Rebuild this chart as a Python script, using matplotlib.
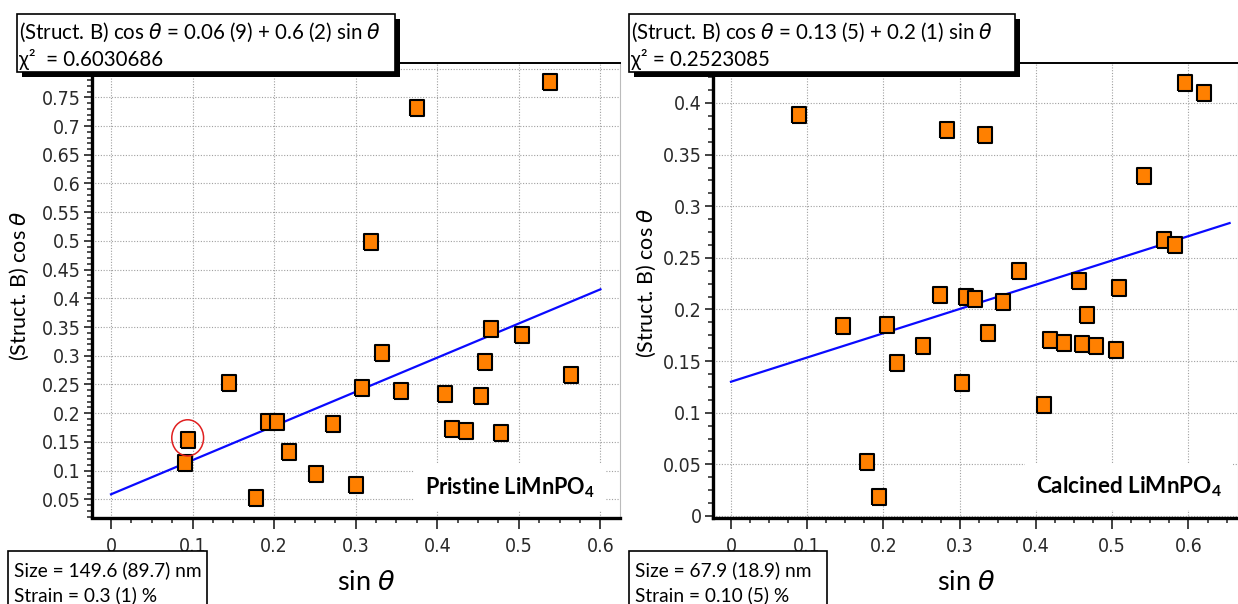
import matplotlib
matplotlib.use("Agg")
import matplotlib.pyplot as plt
from matplotlib import font_manager
from matplotlib.patches import Rectangle, Ellipse
from matplotlib.ticker import MultipleLocator


# -----------------------------
# Data
# -----------------------------
pristine_sin = [0.538, 0.375, 0.319, 0.0945, 0.0907, 0.1445, 0.193, 0.2037,
                0.1775, 0.218, 0.251, 0.2725, 0.3006, 0.308, 0.332, 0.355,
                0.409, 0.418, 0.4355, 0.4655, 0.458, 0.454, 0.4777, 0.5034,
                0.5645]
pristine_cos = [0.777, 0.731, 0.498, 0.153, 0.114, 0.252, 0.185, 0.185,
                0.052, 0.133, 0.094, 0.181, 0.075, 0.243, 0.304, 0.239,
                0.233, 0.172, 0.169, 0.346, 0.289, 0.230, 0.165, 0.337,
                0.266]

calcined_sin = [0.089, 0.283, 0.3326, 0.5958, 0.6207, 0.542, 0.5678, 0.5823,
                0.3777, 0.456, 0.5088, 0.2746, 0.3077, 0.3197, 0.357, 0.147,
                0.204, 0.2176, 0.2518, 0.3026, 0.3368, 0.4186, 0.4372, 0.46,
                0.4788, 0.5046, 0.4674, 0.41, 0.178, 0.1938]
calcined_cos = [0.388, 0.374, 0.369, 0.419, 0.410, 0.3295, 0.267, 0.262,
                0.237, 0.228, 0.221, 0.214, 0.212, 0.210, 0.207, 0.184,
                0.185, 0.148, 0.165, 0.129, 0.177, 0.1705, 0.168, 0.167,
                0.165, 0.161, 0.195, 0.107, 0.052, 0.018]

# linear fits: intercept, slope, x range
pristine_fit = (0.0587, 0.595, 0.0, 0.6)
calcined_fit = (0.130, 0.235, 0.0, 0.654)

TH = "$\\theta$"
pristine_eq = ["(Struct. B) cos " + TH + " = 0.06 (9) + 0.6 (2) sin " + TH,
               "\u03c7\u00b2  = 0.6030686"]
calcined_eq = ["(Struct. B) cos " + TH + " = 0.13 (5) + 0.2 (1) sin " + TH,
               "\u03c7\u00b2 = 0.2523085"]
pristine_size = ["Size = 149.6 (89.7) nm", "Strain = 0.3 (1) %"]
calcined_size = ["Size = 67.9 (18.9) nm", "Strain = 0.10 (5) %"]


# -----------------------------
# Fonts
# -----------------------------
fonts = font_manager.fontManager.ttflist
names = {f.name for f in fonts}
tick_stretch = "normal"
if "Liberation Sans Narrow" in names:
    tick_font, tick_size = "Liberation Sans Narrow", 15
elif any(f.name == "DejaVu Sans" and f.stretch == "condensed" for f in fonts):
    tick_font, tick_size, tick_stretch = "DejaVu Sans", 14, "condensed"
else:
    tick_font, tick_size = "Liberation Sans", 14
text_font = "Lato"

plt.rcParams["font.family"] = [text_font, "DejaVu Sans"]
plt.rcParams["mathtext.fontset"] = "custom"
plt.rcParams["mathtext.rm"] = text_font
plt.rcParams["mathtext.it"] = "DejaVu Sans:italic"
plt.rcParams["mathtext.bf"] = text_font + ":bold"

W, H = 1238, 604
fig = plt.figure(figsize=(W / 100, H / 100), dpi=100)


def px_rect(x0, y0, x1, y1):
    # pixel box (top-left origin) -> figure fraction rect
    return x0 / W, 1 - y1 / H, (x1 - x0) / W, (y1 - y0) / H


def fmt(v, pos):
    s = ("%.2f" % v).rstrip("0").rstrip(".")
    return "0" if s in ("-0", "") else s


def setup_axes(ax, xlim, ylim, ymajor, yminor):
    ax.set_xlim(*xlim)
    ax.set_ylim(*ylim)
    ax.xaxis.set_major_locator(MultipleLocator(0.1))
    ax.xaxis.set_minor_locator(MultipleLocator(0.025))
    ax.yaxis.set_major_locator(MultipleLocator(ymajor))
    ax.yaxis.set_minor_locator(MultipleLocator(yminor))
    ax.xaxis.set_major_formatter(fmt)
    ax.yaxis.set_major_formatter(fmt)
    ax.grid(True, which="major", color="#a0a0a0", linestyle=(0, (1, 1.5)),
            linewidth=0.8)
    ax.set_axisbelow(True)
    ax.spines["left"].set_linewidth(2.4)
    ax.spines["bottom"].set_linewidth(2.4)
    ax.spines["top"].set_linewidth(1.4)
    ax.spines["right"].set_linewidth(0.8)
    ax.spines["right"].set_color("#bbbbbb")
    ax.tick_params(which="major", direction="out", length=6, width=1.3,
                   color="#333333", labelsize=tick_size, labelcolor="#2a2a2a",
                   labelfontfamily=tick_font, pad=2)
    ax.tick_params(which="minor", direction="out", length=3.5, width=1.2,
                   color="#333333")
    ax.tick_params(axis="x", which="major", length=8, pad=6)


ax1 = fig.add_axes(px_rect(92, 62.5, 620, 517.5))
ax2 = fig.add_axes(px_rect(713, 62.5, 1238, 517.5))

setup_axes(ax1, (-0.0233, 0.624), (0.0183, 0.8107), 0.05, 0.01)
setup_axes(ax2, (-0.0236, 0.665), (-0.0015, 0.4392), 0.05, 0.0125)

square = [(-0.42, -0.5), (0.42, -0.5), (0.42, 0.5), (-0.42, 0.5), (-0.42, -0.5)]

for ax, xs, ys, fit in [(ax1, pristine_sin, pristine_cos, pristine_fit),
                        (ax2, calcined_sin, calcined_cos, calcined_fit)]:
    b, m, x0, x1 = fit
    ax.plot([x0, x1], [b + m * x0, b + m * x1], color="#0a0aff", lw=1.6,
            zorder=2)
    ax.plot(xs, ys, linestyle="none", marker=square, markersize=12,
            markerfacecolor="#ff8000", markeredgecolor="black",
            markeredgewidth=1.5, zorder=3)

# red circle on the pristine outlier
ax1.add_patch(Ellipse((0.094, 0.157), 0.039, 0.063, fill=False,
                      edgecolor="#e02020", lw=1.1, zorder=4))

# axis labels
ylab = "(Struct. B) cos " + TH
ax1.set_ylabel(ylab, fontsize=15.5)
ax2.set_ylabel(ylab, fontsize=15.5)
ax1.yaxis.set_label_coords(-0.1155, 0.51)
ax2.yaxis.set_label_coords(-0.105, 0.515)
ax1.set_xlabel("sin " + TH, fontsize=19.5)
ax2.set_xlabel("sin " + TH, fontsize=19.5)
ax1.xaxis.set_label_coords(0.519, -0.115)
ax2.xaxis.set_label_coords(0.482, -0.115)

# sample names
ax1.text(0.953, 0.066, "Pristine LiMnPO$_\\mathbf{4}$", transform=ax1.transAxes,
         ha="right", va="center", fontsize=15.6, fontweight="bold",
         bbox=dict(facecolor="white", edgecolor="none", pad=8), zorder=5)
ax2.text(0.97, 0.068, "Calcined LiMnPO$_\\mathbf{4}$", transform=ax2.transAxes,
         ha="right", va="center", fontsize=16.2, fontweight="bold",
         bbox=dict(facecolor="white", edgecolor="none", pad=8), zorder=5)


# -----------------------------
# Boxes with fit results
# -----------------------------
def text_box(x0, y0, x1, y1, lines):
    fig.patches.append(Rectangle(((x0 + 5) / W, 1 - (y1 + 5) / H),
                                 (x1 - x0) / W, (y1 - y0) / H,
                                 transform=fig.transFigure,
                                 facecolor="black", edgecolor="none",
                                 zorder=10))
    fig.patches.append(Rectangle((x0 / W, 1 - y1 / H), (x1 - x0) / W,
                                 (y1 - y0) / H, transform=fig.transFigure,
                                 facecolor="white", edgecolor="black",
                                 lw=1.2, zorder=11))
    for i, line in enumerate(lines):
        fig.text((x0 + 2) / W, 1 - (y0 + 18 + i * 28) / H, line,
                 fontsize=14.8, ha="left", va="center", zorder=12)


text_box(17, 14, 395, 72, pristine_eq)
text_box(629, 14, 1015, 72, calcined_eq)


def bottom_box(x0, y0, x1, lines):
    fig.patches.append(Rectangle((x0 / W, -0.01), (x1 - x0) / W,
                                 1 - y0 / H + 0.01,
                                 transform=fig.transFigure,
                                 facecolor="white", edgecolor="black",
                                 lw=1.2, zorder=11))
    for i, line in enumerate(lines):
        fig.text((x0 + 6) / W, 1 - (y0 + 19 + i * 25) / H, line,
                 fontsize=13.8, ha="left", va="center", zorder=12)


bottom_box(8, 551, 207, pristine_size)
bottom_box(629, 551, 827, calcined_size)

# condensed tick labels when such a face exists
if tick_stretch != "normal":
    fig.canvas.draw()
    for ax in (ax1, ax2):
        for lab in ax.get_xticklabels() + ax.get_yticklabels():
            lab.set_fontstretch(tick_stretch)

fig.savefig("out.png", dpi=100)
